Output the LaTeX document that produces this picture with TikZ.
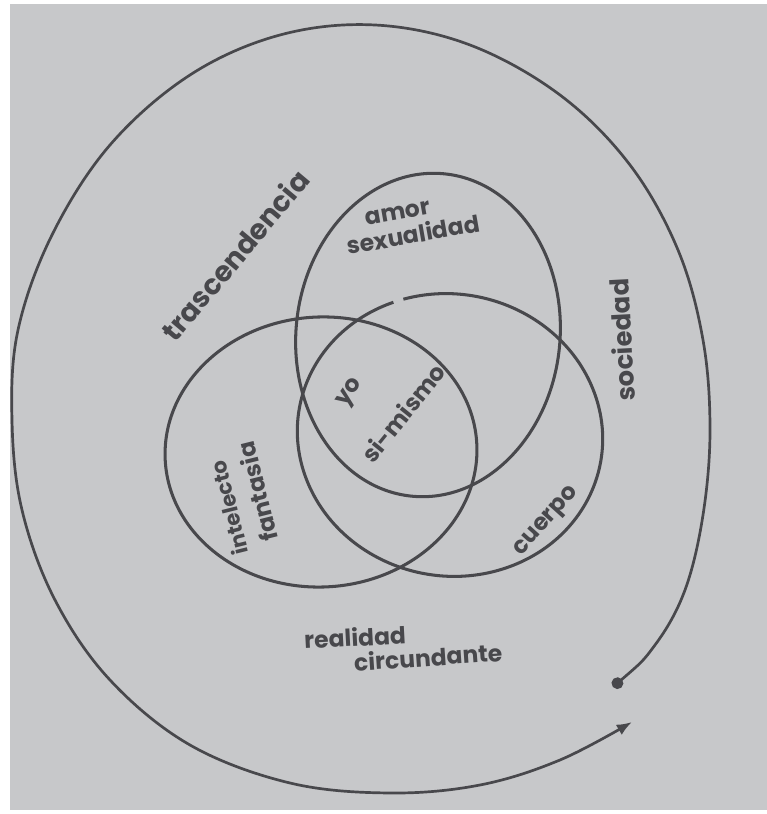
\documentclass[tikz,border=0pt]{standalone}
\usepackage{fontspec}
\setmainfont{Poppins}
\usetikzlibrary{arrows.meta}
\definecolor{paper}{RGB}{199,200,202}
\definecolor{ink}{RGB}{72,72,76}
\begin{document}
\begin{tikzpicture}[
    x=0.03cm, y=0.03cm,
    ring/.style={draw=ink, line width=2.6pt},
    hand/.style={text=ink, inner sep=0pt, font=\fontsize{#1}{#1}\selectfont\bfseries},
    hand/.default=20,
]
    \useasboundingbox (0,0) rectangle (767,814);
    \fill[paper] (10,4) rectangle (767,810);

    % outer spiral: dot inside, arrow outside
    \draw[draw=ink, line width=2.3pt, {Circle[length=10pt]}-{Latex[length=13pt,width=10pt]}]
      plot[smooth, tension=0.6] coordinates {
        (613,127) (655,169) (685,224) (703,299) (710,384) (703,474)
        (678,564) (630,649) (560,719) (470,769) (375,789) (280,779)
        (190,739) (110,669) (52,579) (18,484) (12,394) (22,304)
        (55,214) (110,134) (190,69) (290,31) (390,21) (480,29)
        (560,54) (632,92)};

    % amor / sexualidad
    \draw[ring] (428,479) ellipse [x radius=132, y radius=162, rotate=-6];
    % intelecto / fantasia
    \draw[ring] (321,362) ellipse [x radius=156, y radius=135, rotate=3];
    % cuerpo, open at the top
    \begin{scope}[shift={(450,379)}, rotate=-10]
      \draw[ring] (121:153 and 141) arc[start angle=121, end angle=477, x radius=153, y radius=141];
    \end{scope}

    % labels
    \node[hand=24, rotate=50] (trasc) at (235,559) {trascendencia};
    \node[hand, rotate=10] (amor) at (398,601) {amor};
    \node[hand, rotate=10] (sexu) at (413,580) {sexualidad};
    \node[hand, rotate=55] (yo) at (351,421) {yo};
    \node[hand, rotate=51] (simismo) at (403,401) {si-mismo};
    \node[hand=18, rotate=104] (intel) at (229,306) {intelecto};
    \node[hand, rotate=104] (fant) at (257,322) {fantasia};
    \node[hand, rotate=48] (cuerpo) at (547,292) {cuerpo};
    \node[hand=22, rotate=93] (soc) at (622,474) {sociedad};
    \node[hand, rotate=3] (real) at (355,177) {realidad};
    \node[hand, rotate=4] (circ) at (428,157) {circundante};
\end{tikzpicture}
\end{document}
